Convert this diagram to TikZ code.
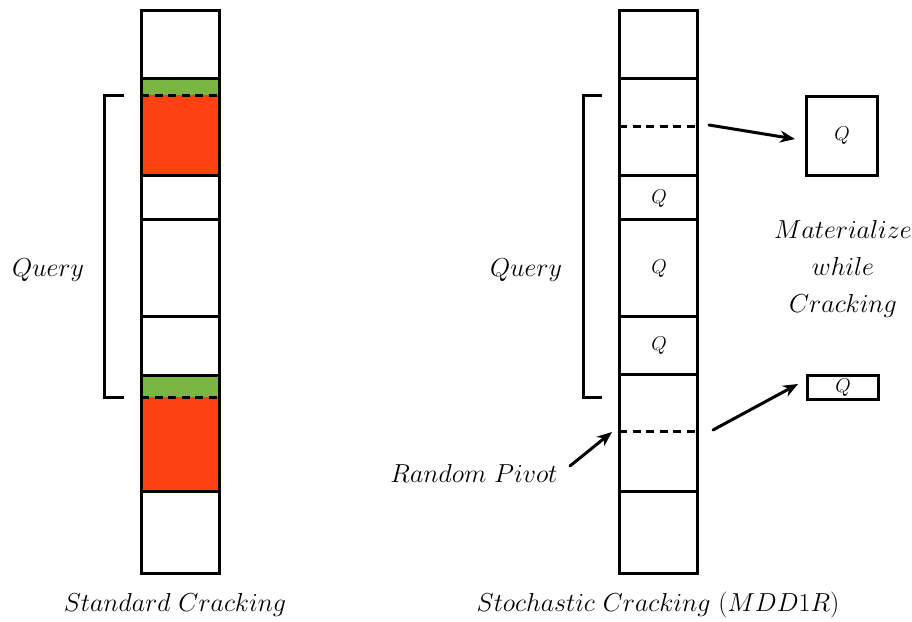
\RequirePackage{fix-cm}
\documentclass[tikz,border=0pt]{standalone}
\usetikzlibrary{arrows.meta}
\definecolor{cgreen}{RGB}{122,182,66}
\definecolor{cred}{RGB}{252,66,16}
\begin{document}
\begin{tikzpicture}[x=1pt,y=-1pt,
  line width=3pt,
  dashcut/.style={dash pattern=on 8pt off 5.5pt},
  bigtxt/.style={font=\fontsize{26}{31}\selectfont, inner sep=0pt},
  qtxt/.style={font=\fontsize{20}{24}\selectfont, inner sep=0pt},
  qbox/.style={draw, line width=3pt, inner sep=0pt, anchor=north west},
  arr/.style={-{Stealth[length=15pt,width=12pt]}, line width=3pt, line cap=round},
  bracketline/.style={line width=3pt}]
\useasboundingbox (0,0) rectangle (912,621);

% ---- Standard cracking column ----
\fill[cgreen] (141,78) rectangle (219,95);
\fill[cred] (141,95) rectangle (219,175);
\fill[cgreen] (141,375) rectangle (219,397);
\fill[cred] (141,397) rectangle (219,491);
\draw (141,10) rectangle (219,573);
\foreach \yy in {78,175,219,316,375,491}
  \draw (141,\yy) -- (219,\yy);
\draw[dashcut] (141,95) -- (219,95);
\draw[dashcut] (141,397) -- (219,397);

% bracket and label
\draw[bracketline] (124,95) -- (104,95) -- (104,397) -- (124,397);
\node[bigtxt] (q1) at (48,270) {$Query$};
\node[bigtxt] (cap1) at (175,605) {$Standard\ Cracking$};

% ---- Stochastic cracking column ----
\draw (619,10) rectangle (697,573);
\foreach \yy in {78,175,219,316,374,491}
  \draw (619,\yy) -- (697,\yy);
\draw[dashcut] (619,126) -- (697,126);
\draw[dashcut] (619,431) -- (697,431);
\node[qtxt] (qa) at (659,199) {$Q$};
\node[qtxt] (qb) at (659,269) {$Q$};
\node[qtxt] (qc) at (659,346) {$Q$};

\draw[bracketline] (602,95) -- (583,95) -- (583,397) -- (602,397);
\node[bigtxt] (q2) at (526,270) {$Query$};
\node[bigtxt] (cap2) at (658,605) {$Stochastic\ Cracking\ (MDD1R)$};

% materialized pieces
\node[qbox, minimum width=71pt, minimum height=79pt] (m1) at (805,95) {};
\node[qtxt] at (m1.center) {$Q$};
\node[qbox, minimum width=71pt, minimum height=24pt] (m2) at (806,374) {};
\node[qtxt] at (m2.center) {$Q$};

\node[bigtxt, align=center] (mat) at (843,269) {$Materialize$\\[6pt]$while$\\[6pt]$Cracking$};
\node[bigtxt] (rp) at (474,473) {$Random\ Pivot$};

% arrows
\coordinate (a1s) at (709,125);
\coordinate (a1e) at (795,139);
\coordinate (a2s) at (713,430);
\coordinate (a2e) at (798,384);
\coordinate (a3s) at (570,466);
\coordinate (a3e) at (612,432);
\draw[arr] (a1s) -- (a1e);
\draw[arr] (a2s) -- (a2e);
\draw[arr] (a3s) -- (a3e);
\end{tikzpicture}
\end{document}
